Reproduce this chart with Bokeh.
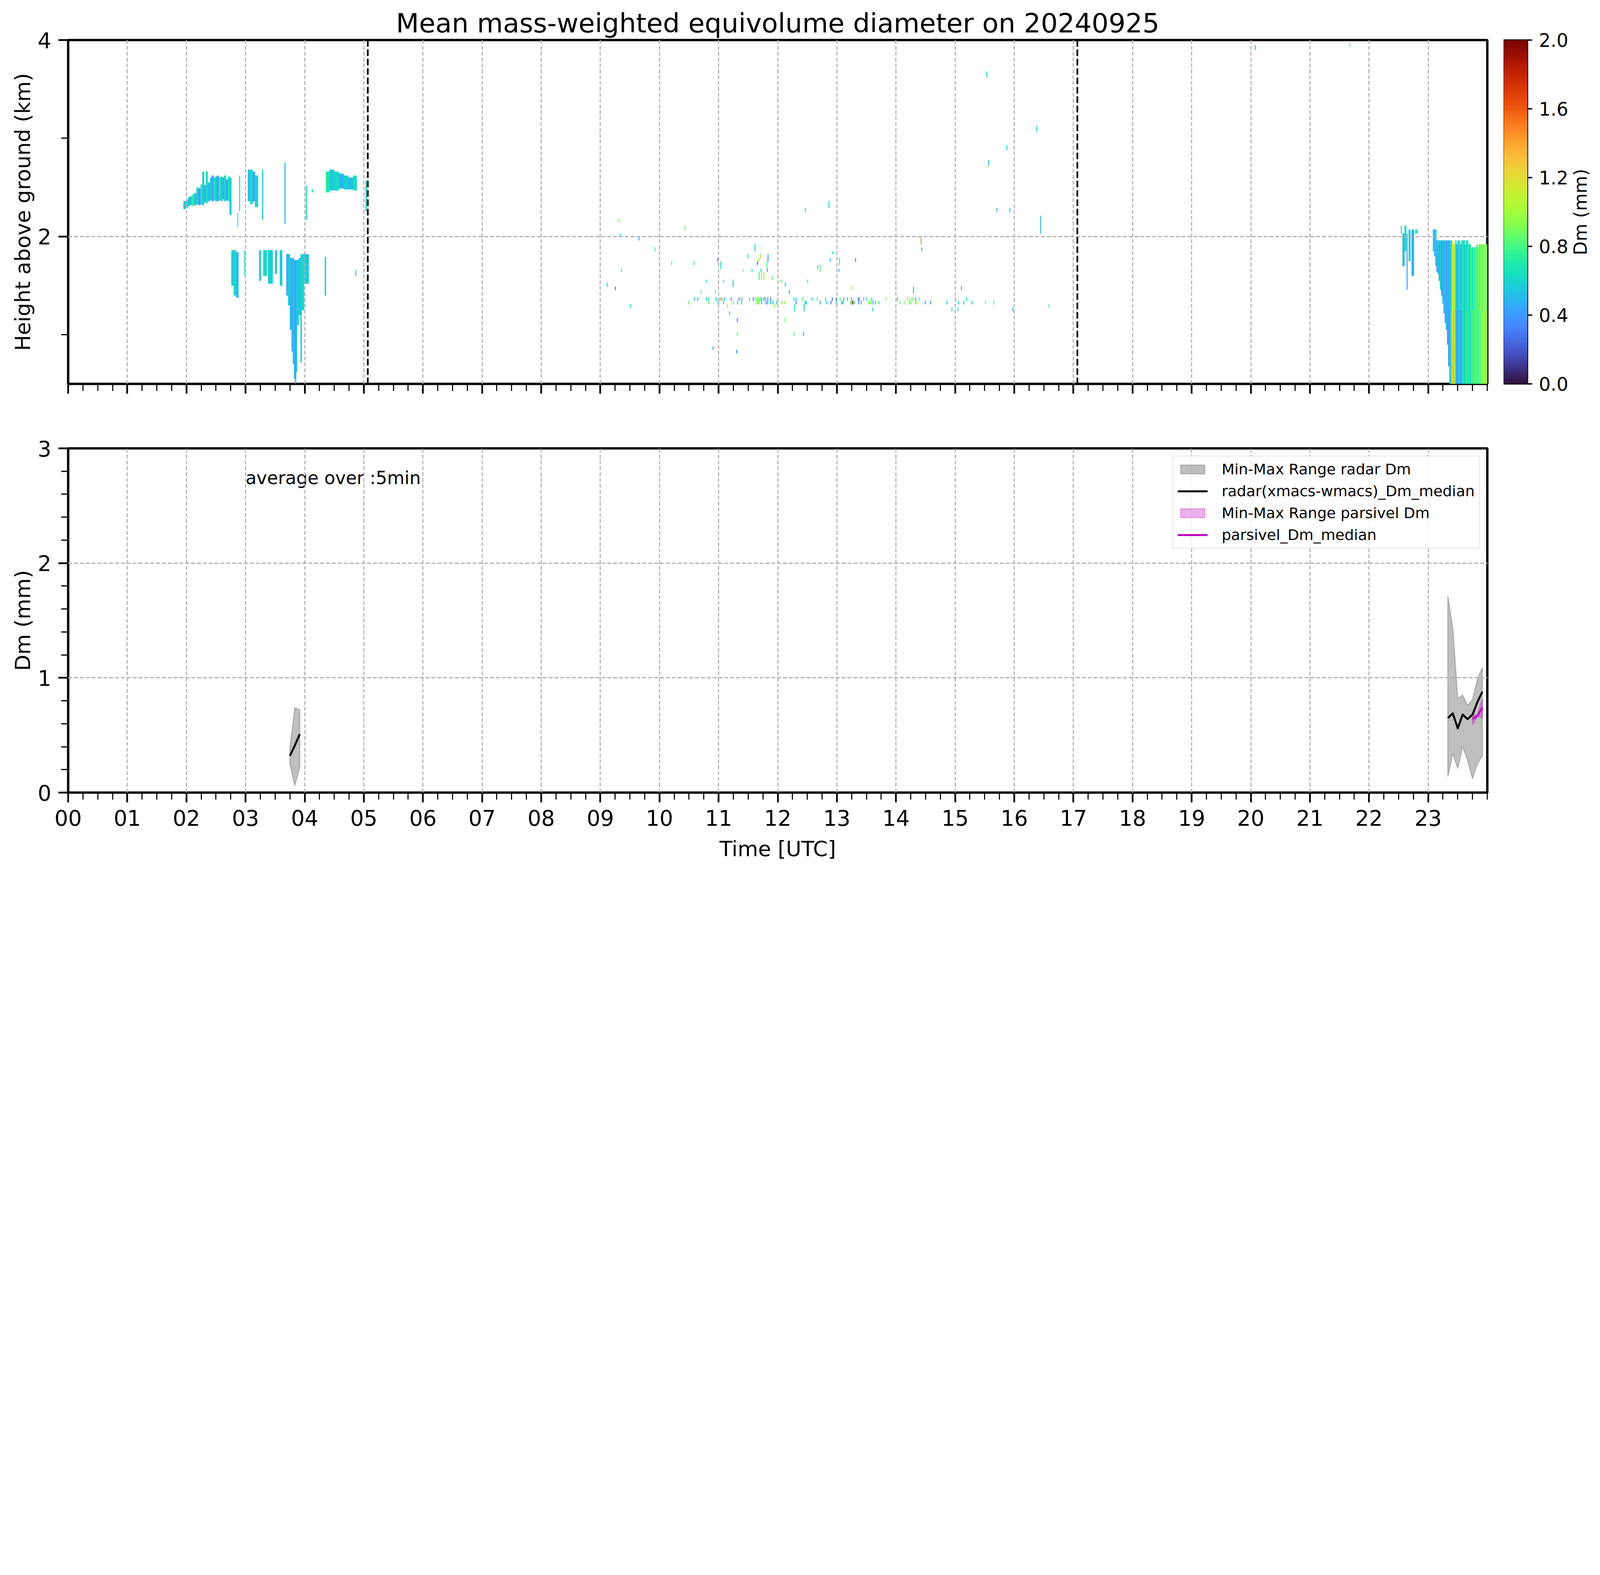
import math
import numpy as np
from bokeh.plotting import figure
from bokeh.models import (Range1d, FixedTicker, LinearColorMapper, ColumnDataSource,
                          Span, Legend, LegendItem, PrintfTickFormatter)
from bokeh.transform import transform
from bokeh.palettes import Turbo256
from bokeh.layouts import column, row
from bokeh.embed import file_html
from bokeh.resources import INLINE
from bokeh.core.properties import value

FONT = "DejaVu Sans"

# ---------------- data ----------------
title_text = "Mean mass-weighted equivolume diameter on 20240925"
hours = list(range(24))
hour_labels = ["%02d" % h for h in hours]
height_major = [2, 4]
height_minor = [1, 3]
dm_major = [0, 1, 2, 3]
cbar_ticks = [0.0, 0.4, 0.8, 1.2, 1.6, 2.0]
cbar_label = "Dm (mm)"
switch_times = [5.067, 17.067]

# radar Dm cells (t0, t1, h0, h1, Dm)
cluster_a = [
    (1.95, 1.99, 2.28, 2.36, 0.55), (1.99, 2.03, 2.29, 2.37, 0.70),
    (2.03, 2.06, 2.31, 2.40, 0.45), (2.06, 2.10, 2.32, 2.41, 0.60),
    (2.10, 2.13, 2.31, 2.43, 0.75), (2.13, 2.17, 2.32, 2.44, 0.50),
    (2.17, 2.20, 2.33, 2.50, 0.62), (2.20, 2.24, 2.32, 2.49, 0.42),
    (2.24, 2.27, 2.33, 2.53, 0.70), (2.27, 2.30, 2.32, 2.66, 0.55),
    (2.30, 2.33, 2.35, 2.52, 0.45), (2.33, 2.36, 2.34, 2.66, 0.65),
    (2.36, 2.40, 2.36, 2.55, 0.50), (2.40, 2.43, 2.37, 2.60, 0.58),
    (2.43, 2.46, 2.36, 2.62, 0.40), (2.46, 2.49, 2.37, 2.60, 0.68),
    (2.49, 2.52, 2.36, 2.61, 0.52), (2.52, 2.55, 2.36, 2.62, 0.45),
    (2.55, 2.58, 2.37, 2.60, 0.72), (2.58, 2.61, 2.36, 2.61, 0.56),
    (2.61, 2.64, 2.38, 2.60, 0.48), (2.64, 2.67, 2.36, 2.62, 0.62),
    (2.67, 2.70, 2.37, 2.58, 0.42), (2.70, 2.73, 2.36, 2.61, 0.66),
    (2.73, 2.76, 2.22, 2.60, 0.55), (2.895, 2.905, 2.26, 2.62, 0.50),
    (2.865, 2.872, 2.10, 2.24, 0.45),
]
cluster_b = [
    (3.04, 3.08, 2.36, 2.68, 0.50), (3.08, 3.12, 2.33, 2.68, 0.62),
    (3.12, 3.16, 2.36, 2.66, 0.42), (3.16, 3.21, 2.30, 2.62, 0.58),
    (3.28, 3.295, 2.17, 2.68, 0.55), (3.66, 3.675, 2.13, 2.75, 0.50),
    (4.02, 4.035, 2.17, 2.52, 0.65), (4.12, 4.14, 2.45, 2.48, 0.70),
    (4.36, 4.42, 2.45, 2.66, 0.70), (4.42, 4.50, 2.47, 2.68, 0.55),
    (4.50, 4.58, 2.47, 2.66, 0.62), (4.58, 4.66, 2.49, 2.64, 0.48),
    (4.66, 4.74, 2.48, 2.62, 0.58), (4.74, 4.82, 2.48, 2.60, 0.52),
    (4.82, 4.88, 2.47, 2.62, 0.65), (5.03, 5.05, 2.26, 2.57, 0.60),
]
cluster_low = [
    (2.76, 2.80, 1.50, 1.86, 0.55), (2.80, 2.84, 1.40, 1.86, 0.62),
    (2.84, 2.88, 1.38, 1.84, 0.50), (2.98, 2.99, 1.60, 1.86, 0.65),
    (3.23, 3.26, 1.55, 1.86, 0.55), (3.30, 3.36, 1.60, 1.86, 0.62),
    (3.38, 3.46, 1.52, 1.86, 0.58), (3.50, 3.53, 1.62, 1.86, 0.50),
    (3.58, 3.62, 1.50, 1.86, 0.55),
    (3.69, 3.72, 1.40, 1.82, 0.45), (3.72, 3.75, 1.30, 1.82, 0.55),
    (3.75, 3.78, 1.05, 1.78, 0.50), (3.78, 3.80, 0.83, 1.78, 0.42),
    (3.80, 3.82, 0.70, 1.78, 0.55), (3.82, 3.84, 0.55, 1.76, 0.48),
    (3.84, 3.855, 0.50, 1.76, 0.40), (3.855, 3.87, 0.62, 1.76, 0.52),
    (3.87, 3.90, 1.10, 1.76, 0.58), (3.90, 3.93, 1.20, 1.78, 0.50),
    (3.93, 3.95, 0.72, 1.82, 0.55), (3.95, 3.99, 1.25, 1.82, 0.62),
    (3.99, 4.07, 1.52, 1.82, 0.55), (4.34, 4.36, 1.40, 1.79, 0.60),
    (4.86, 4.87, 1.60, 1.66, 0.45),
]
cluster_g = [
    (22.54, 22.55, 2.03, 2.11, 0.45), (22.567, 22.60, 1.70, 2.03, 0.50),
    (22.60, 22.63, 1.85, 2.11, 0.65), (22.637, 22.65, 1.46, 2.03, 0.40),
    (22.67, 22.70, 1.75, 2.07, 0.55), (22.72, 22.76, 1.60, 2.07, 0.48),
    (22.78, 22.82, 2.03, 2.07, 0.70),
]
# isolated short echoes (t, h0, h1, Dm)
scatter_echo = [
    (12.86, 2.29, 2.36, 0.55), (12.46, 2.25, 2.29, 0.70), (15.70, 2.25, 2.29, 0.45),
    (15.92, 2.25, 2.29, 0.60), (16.44, 2.03, 2.21, 0.50), (9.31, 2.14, 2.18, 0.90),
    (10.43, 2.07, 2.11, 0.85), (9.33, 2.00, 2.03, 0.70), (9.65, 1.96, 1.99, 0.45),
    (9.92, 1.85, 1.89, 0.75), (11.61, 1.85, 1.92, 0.62), (14.42, 1.92, 1.99, 1.45),
    (14.43, 1.85, 1.89, 0.55), (12.92, 1.82, 1.85, 0.70), (11.49, 1.78, 1.82, 0.70),
    (11.70, 1.78, 1.82, 0.95), (11.83, 1.745, 1.82, 0.40), (10.98, 1.745, 1.78, 0.30),
    (11.67, 1.745, 1.78, 1.00), (12.88, 1.745, 1.78, 0.60), (13.04, 1.71, 1.78, 0.75),
    (13.31, 1.745, 1.78, 0.30), (10.20, 1.71, 1.745, 0.80), (10.58, 1.71, 1.745, 0.75),
    (11.03, 1.67, 1.745, 0.65), (11.65, 1.71, 1.745, 0.20), (11.81, 1.67, 1.745, 0.80),
    (12.67, 1.67, 1.71, 0.70), (12.71, 1.64, 1.71, 0.85), (9.35, 1.64, 1.67, 0.75),
    (11.41, 1.64, 1.67, 0.95), (11.56, 1.64, 1.67, 0.70), (11.71, 1.64, 1.67, 0.65),
    (11.82, 1.64, 1.67, 0.40), (11.68, 1.56, 1.64, 0.80), (11.72, 1.56, 1.64, 0.90),
    (11.76, 1.56, 1.64, 1.00), (11.90, 1.56, 1.60, 0.85), (13.03, 1.64, 1.67, 0.50),
    (10.79, 1.53, 1.56, 0.75), (11.08, 1.53, 1.56, 0.75), (11.24, 1.49, 1.56, 0.60),
    (12.05, 1.53, 1.56, 0.80), (12.50, 1.53, 1.56, 0.75), (12.12, 1.49, 1.53, 0.60),
    (9.11, 1.49, 1.53, 0.65), (9.25, 1.455, 1.49, 0.30), (13.25, 1.455, 1.49, 0.95),
    (14.29, 1.42, 1.49, 0.55), (15.10, 1.455, 1.49, 0.45), (10.70, 1.42, 1.455, 0.80),
    (10.94, 1.42, 1.455, 0.80), (12.19, 1.42, 1.455, 0.45), (9.50, 1.277, 1.31, 0.65),
    (11.14, 1.277, 1.31, 0.90), (11.94, 1.277, 1.31, 0.95), (12.28, 1.24, 1.31, 0.65),
    (12.44, 1.24, 1.31, 0.65), (13.60, 1.24, 1.277, 0.55), (14.94, 1.24, 1.277, 0.70),
    (15.04, 1.24, 1.277, 0.75), (15.97, 1.24, 1.277, 0.45), (16.58, 1.277, 1.31, 0.80),
    (11.18, 1.20, 1.24, 0.70), (11.31, 1.13, 1.17, 0.40), (12.12, 1.13, 1.17, 0.85),
    (12.27, 0.99, 1.025, 0.80), (11.31, 0.99, 1.025, 0.85), (12.43, 0.99, 1.025, 0.40),
    (10.90, 0.847, 0.88, 0.50), (11.30, 0.81, 0.845, 0.30),
    (15.53, 3.62, 3.68, 0.60), (15.56, 2.72, 2.78, 0.55), (16.37, 3.07, 3.12, 0.70),
    (15.87, 2.88, 2.93, 0.60), (20.07, 3.90, 3.95, 0.55), (21.67, 3.93, 3.97, 0.80),
]
# thin echo layer near 1.35 km
band_upper_t = [10.585, 10.641, 10.789, 10.825, 10.952, 11.019, 11.049, 11.095, 11.207,
                11.340, 11.386, 11.519, 11.580, 11.621, 11.641, 11.662, 11.682, 11.702,
                11.723, 11.759, 11.784, 11.825, 11.876, 12.269, 12.305, 12.412, 12.575,
                12.662, 12.804, 12.917, 12.983, 13.049, 13.111, 13.172, 13.243, 13.355,
                13.376, 13.447, 13.493, 13.585, 13.825, 14.019, 14.192, 14.223, 14.259,
                14.284, 14.325, 14.386, 14.998, 15.187]
band_upper_dm = [0.55, 0.60, 0.55, 0.80, 0.60, 1.40, 0.55, 0.50, 0.40,
                 0.35, 0.60, 0.55, 0.30, 0.85, 0.90, 0.95, 0.85, 0.80,
                 0.55, 0.35, 0.60, 0.40, 0.35, 0.55, 0.60, 0.85, 0.70,
                 0.80, 0.60, 0.30, 0.30, 0.85, 0.40, 0.55, 0.35, 0.30,
                 0.45, 0.60, 0.75, 0.55, 0.90, 0.50, 0.90, 0.95, 0.85,
                 0.90, 0.40, 0.75, 0.55, 0.60]
band_lower_t = [10.493, 10.825, 10.983, 11.075, 11.243, 11.315, 11.381, 11.641, 11.662,
                11.682, 11.718, 11.799, 11.825, 11.876, 11.912, 11.978, 12.065, 12.111,
                12.305, 12.458, 12.478, 12.713, 12.825, 12.896, 12.983, 13.075, 13.095,
                13.223, 13.243, 13.264, 13.289, 13.366, 13.407, 13.529, 13.549, 13.570,
                13.605, 13.646, 13.702, 14.060, 14.131, 14.223, 14.243, 14.325, 14.350,
                14.488, 14.580, 14.856, 15.049, 15.141, 15.279, 15.509, 15.646]
band_lower_dm = [0.80, 0.85, 0.70, 0.60, 0.80, 0.55, 0.65, 0.90, 0.85,
                 0.95, 0.55, 0.30, 0.55, 0.50, 0.55, 0.60, 0.90, 0.95,
                 0.30, 0.55, 0.60, 0.45, 0.60, 0.30, 0.55, 0.60, 0.55,
                 0.90, 0.60, 1.95, 0.85, 0.30, 0.40, 0.95, 0.90, 0.85,
                 0.40, 0.55, 0.80, 0.85, 0.90, 0.95, 0.90, 0.85, 0.95,
                 0.40, 0.35, 0.60, 0.60, 0.55, 0.60, 0.85, 0.80]
# rain shaft after 23 UTC: column edges, bottom, top, Dm above / below 1.25 km
rain_t0 = [23.08, 23.10, 23.12, 23.14, 23.16, 23.18, 23.20, 23.22, 23.24, 23.26,
           23.28, 23.30, 23.32, 23.34, 23.36, 23.38, 23.40, 23.42, 23.44, 23.46,
           23.48, 23.50, 23.52, 23.54, 23.56, 23.58, 23.60, 23.62, 23.64, 23.66,
           23.68, 23.70, 23.72, 23.74, 23.76, 23.78, 23.80, 23.82, 23.84, 23.86,
           23.88, 23.90, 23.92, 23.94, 23.96, 23.98]
rain_t1 = [23.10, 23.12, 23.14, 23.16, 23.18, 23.20, 23.22, 23.24, 23.26, 23.28,
           23.30, 23.32, 23.34, 23.36, 23.38, 23.40, 23.42, 23.44, 23.46, 23.48,
           23.50, 23.52, 23.54, 23.56, 23.58, 23.60, 23.62, 23.64, 23.66, 23.68,
           23.70, 23.72, 23.74, 23.76, 23.78, 23.80, 23.82, 23.84, 23.86, 23.88,
           23.90, 23.92, 23.94, 23.96, 23.98, 24.00]
rain_bottom = [1.85, 1.80, 1.70, 1.64, 1.62, 1.55, 1.46, 1.40, 1.32, 1.22,
               1.12, 1.05, 0.90, 0.68, 0.50, 0.50, 0.50, 0.50, 0.50, 0.50,
               0.50, 0.50, 0.50, 0.50, 0.50, 0.50, 0.50, 0.50, 0.50, 0.50,
               0.50, 0.50, 0.50, 0.50, 0.50, 0.50, 0.50, 0.50, 0.50, 0.50,
               0.50, 0.50, 0.50, 0.50, 0.50, 0.50]
rain_top = [2.07, 2.07, 2.07, 1.96, 1.96, 1.96, 1.96, 1.96, 1.96, 1.96,
            1.96, 1.96, 1.96, 1.96, 1.96, 1.96, 1.96, 1.92, 1.92, 1.96,
            1.92, 1.96, 1.96, 1.92, 1.96, 1.96, 1.96, 1.92, 1.96, 1.96,
            1.92, 1.92, 1.89, 1.89, 1.89, 1.89, 1.89, 1.92, 1.89, 1.92,
            1.92, 1.92, 1.92, 1.92, 1.92, 1.92]
rain_dm_upper = [0.60, 0.45, 0.65, 0.40, 0.55, 0.42, 0.58, 0.38, 0.50, 0.44,
                 0.56, 0.40, 0.52, 0.45, 0.55, 0.60, 1.10, 1.30, 1.00, 0.62,
                 0.45, 0.55, 0.68, 0.50, 0.62, 0.72, 0.55, 0.68, 0.60, 0.75,
                 0.62, 0.70, 0.78, 0.66, 0.80, 0.72, 0.85, 0.75, 0.88, 0.80,
                 0.92, 0.82, 0.95, 0.90, 0.98, 0.92]
rain_dm_lower = [0.60, 0.45, 0.65, 0.40, 0.55, 0.42, 0.58, 0.38, 0.50, 0.40,
                 0.45, 0.50, 0.42, 0.38, 0.48, 0.70, 1.15, 1.40, 1.05, 0.55,
                 0.40, 0.45, 0.60, 0.42, 0.55, 0.70, 0.65, 0.62, 0.75, 0.68,
                 0.72, 0.60, 0.74, 0.80, 0.72, 0.85, 0.78, 0.82, 0.76, 0.90,
                 0.85, 0.95, 0.88, 1.00, 0.92, 0.98]

# 5-min statistics (bottom panel)
radar_t_a = [3.750, 3.833, 3.917]
radar_med_a = [0.32, 0.41, 0.51]
radar_min_a = [0.25, 0.06, 0.22]
radar_max_a = [0.39, 0.74, 0.72]
radar_t_b = [23.333, 23.417, 23.500, 23.583, 23.667, 23.750, 23.833, 23.917]
radar_med_b = [0.65, 0.69, 0.56, 0.68, 0.64, 0.68, 0.79, 0.88]
radar_min_b = [0.14, 0.34, 0.21, 0.40, 0.28, 0.12, 0.25, 0.32]
radar_max_b = [1.71, 1.43, 0.82, 0.85, 0.76, 0.81, 0.99, 1.09]
pars_t = [23.750, 23.833, 23.917]
pars_med = [0.64, 0.67, 0.74]
pars_min = [0.59, 0.665, 0.65]
pars_max = [0.68, 0.67, 0.82]

# ---------------- build cell table ----------------
T0, T1, H0, H1, DM = [], [], [], [], []
def add(t0, t1, h0, h1, v):
    T0.append(t0); T1.append(t1); H0.append(h0); H1.append(h1); DM.append(v)

for c in cluster_a + cluster_b + cluster_low + cluster_g:
    add(*c)
for (t, h0, h1, v) in scatter_echo:
    add(t, t + 0.012, h0, h1, v)
for t, v in zip(band_upper_t, band_upper_dm):
    add(t, t + 0.012, 1.345, 1.38, v)
for t, v in zip(band_lower_t, band_lower_dm):
    add(t, t + 0.012, 1.31, 1.345, v)
for t0, t1, b, tp, vu, vl in zip(rain_t0, rain_t1, rain_bottom, rain_top, rain_dm_upper, rain_dm_lower):
    split = 1.25
    if b < split:
        add(t0, t1, b, split, vl)
        add(t0, t1, split, tp, vu)
    else:
        add(t0, t1, b, tp, vu)

cells = ColumnDataSource(dict(t0=T0, t1=T1, h0=H0, h1=H1, dm=DM))
mapper = LinearColorMapper(palette=Turbo256, low=0.0, high=2.0)

# ---------------- geometry (CSS px; page is photographed at ~1.817 device px / CSS px) ----
S = 4096.0 / 7442.0
def px(v):
    return v * S
def ipx(v):
    return int(round(v * S))
def fs(v):
    return "%.1fpx" % (v * S)

FRAME_W = 3633
FRAME_H1 = 880
FRAME_H2 = 881
LEFT = 174
TOP = 102
BOT1 = 33
TOP2 = 132
GAP_R = 42
CBAR_W = 61
CBAR_RIGHT = 105
LABEL_W = 76
LABEL_X = 0.38
GRID_COLOR = "#b0b0b0"
minor_x = [i * 0.25 for i in range(97)]

def style_axes(p):
    p.outline_line_color = "black"
    p.outline_line_width = px(11)
    for ax in p.axis:
        ax.axis_line_color = None
        ax.major_tick_line_color = "black"
        ax.minor_tick_line_color = "black"
        ax.major_tick_line_width = px(8)
        ax.minor_tick_line_width = px(5)
        ax.major_tick_out = ipx(46)
        ax.major_tick_in = 0
        ax.minor_tick_out = ipx(32)
        ax.minor_tick_in = 0
        ax.major_label_text_font = FONT
        ax.major_label_text_font_size = fs(100)
        ax.major_label_text_color = "black"
        ax.axis_label_text_font = FONT
        ax.axis_label_text_font_size = fs(98)
        ax.axis_label_text_font_style = "normal"
        ax.axis_label_text_color = "black"
    for g in p.grid:
        g.grid_line_color = GRID_COLOR
        g.grid_line_width = px(5)
        g.grid_line_dash = "10 5"
        g.level = "annotation"

# ---------------- top panel ----------------
p1 = figure(frame_width=FRAME_W, frame_height=FRAME_H1, x_range=Range1d(0, 24),
            y_range=Range1d(0.5, 4), output_backend="svg", toolbar_location=None,
            min_border_left=LEFT, min_border_top=TOP, min_border_right=GAP_R,
            min_border_bottom=BOT1, title=title_text)
p1.title.text_font = FONT
p1.title.text_font_size = fs(124)
p1.title.text_font_style = "normal"
p1.title.text_color = "black"
p1.title.align = "center"
p1.title.standoff = ipx(12)
p1.quad(left="t0", right="t1", bottom="h0", top="h1", source=cells,
        fill_color=transform("dm", mapper), line_color=transform("dm", mapper),
        line_width=0.6)
for st in switch_times:
    p1.add_layout(Span(location=st, dimension="height", line_color="black",
                       line_width=px(8), line_dash="17 7"))
p1.xaxis.ticker = FixedTicker(ticks=hours, minor_ticks=minor_x)
p1.yaxis.ticker = FixedTicker(ticks=height_major, minor_ticks=height_minor)
p1.yaxis.axis_label = "Height above ground (km)"
style_axes(p1)
p1.xaxis.major_label_overrides = {h: "" for h in hours}
p1.xaxis.major_label_text_font_size = "2px"
p1.xaxis.major_label_standoff = 0
p1.yaxis.major_label_standoff = ipx(33)
p1.yaxis.axis_label_standoff = ipx(8)

# ---------------- colour bar ----------------
pc = figure(frame_width=CBAR_W, frame_height=FRAME_H1, x_range=Range1d(0, 1),
            y_range=Range1d(0, 2), output_backend="svg", toolbar_location=None,
            x_axis_location=None, y_axis_location="right",
            min_border_left=0, min_border_top=TOP, min_border_bottom=BOT1,
            min_border_right=CBAR_RIGHT)
grad = np.linspace(0.0, 2.0, 256).reshape(256, 1)
pc.image(image=[grad], x=0, y=0, dw=1, dh=2, color_mapper=mapper)
pc.grid.visible = False
pc.outline_line_color = "black"
pc.outline_line_width = px(6)
ya = pc.yaxis[0]
ya.ticker = FixedTicker(ticks=cbar_ticks, minor_ticks=[])
ya.formatter = PrintfTickFormatter(format="%.1f")
ya.axis_line_color = None
ya.major_tick_line_color = "black"
ya.major_tick_line_width = px(6)
ya.major_tick_out = ipx(21)
ya.major_tick_in = 0
ya.major_label_standoff = ipx(31)
ya.major_label_text_font = FONT
ya.major_label_text_font_size = fs(86)
ya.major_label_text_color = "black"

# colour-bar label, reading bottom to top, in its own slim panel
pl = figure(frame_width=LABEL_W, frame_height=FRAME_H1, x_range=Range1d(0, 1),
            y_range=Range1d(0, 1), output_backend="svg", toolbar_location=None,
            x_axis_location=None, y_axis_location=None,
            min_border_left=0, min_border_right=0, min_border_top=TOP,
            min_border_bottom=BOT1)
pl.grid.visible = False
pl.outline_line_color = None
pl.text(x=[LABEL_X], y=[0.5], text=[cbar_label], angle=math.pi / 2,
        text_font=value(FONT), text_font_size=fs(84), text_align="center",
        text_baseline="middle", text_color="black")

# ---------------- bottom panel ----------------
p2 = figure(frame_width=FRAME_W, frame_height=FRAME_H2, x_range=Range1d(0, 24),
            y_range=Range1d(0, 3), output_backend="svg", toolbar_location=None,
            min_border_left=LEFT, min_border_top=TOP2, min_border_right=GAP_R,
            min_border_bottom=5)

def poly(t, lo, hi):
    return list(t) + list(t[::-1]), list(hi) + list(lo[::-1])

ax_, ay_ = poly(radar_t_a, radar_min_a, radar_max_a)
bx_, by_ = poly(radar_t_b, radar_min_b, radar_max_b)
r_rng = p2.patches(xs=[ax_, bx_], ys=[ay_, by_], fill_color="#808080", fill_alpha=0.5,
                   line_color="#808080", line_alpha=0.5, line_width=px(5))
r_med = p2.multi_line(xs=[radar_t_a, radar_t_b], ys=[radar_med_a, radar_med_b],
                      line_color="black", line_width=px(9), line_join="round")
px_, py_ = poly(pars_t, pars_min, pars_max)
p_rng = p2.patch(px_, py_, fill_color="#bf00bf", fill_alpha=0.3, line_color="#bf00bf",
                 line_alpha=0.3, line_width=px(5))
p_med = p2.line(pars_t, pars_med, line_color="#bf00bf", line_width=px(9), line_join="round")
r_med.level = "overlay"
p_med.level = "overlay"
p2.text(x=[3.0], y=[2.74], text=["average over :5min"], text_font=value(FONT),
        text_font_size=fs(83), text_baseline="alphabetic", text_align="left",
        text_color="black")

p2.xaxis.ticker = FixedTicker(ticks=hours, minor_ticks=minor_x)
p2.xaxis.major_label_overrides = {h: lab for h, lab in zip(hours, hour_labels)}
p2.xaxis.axis_label = "Time [UTC]"
p2.yaxis.ticker = FixedTicker(ticks=dm_major,
                              minor_ticks=[0.2, 0.4, 0.6, 0.8, 1.2, 1.4, 1.6, 1.8,
                                           2.2, 2.4, 2.6, 2.8])
p2.yaxis.axis_label = "Dm (mm)"
style_axes(p2)
p2.xaxis.major_label_standoff = ipx(35)
p2.xaxis.axis_label_standoff = ipx(46)
p2.yaxis.major_label_standoff = ipx(33)
p2.yaxis.axis_label_standoff = ipx(8)

legend = Legend(items=[
    LegendItem(label="Min-Max Range radar Dm", renderers=[r_rng]),
    LegendItem(label="radar(xmacs-wmacs)_Dm_median", renderers=[r_med]),
    LegendItem(label="Min-Max Range parsivel Dm", renderers=[p_rng]),
    LegendItem(label="parsivel_Dm_median", renderers=[p_med]),
], location="top_right")
legend.margin = ipx(35)
legend.padding = ipx(20)
legend.spacing = ipx(22)
legend.glyph_width = ipx(139)
legend.glyph_height = ipx(50)
legend.label_height = ipx(80)
legend.label_standoff = ipx(65)
legend.label_text_font = FONT
legend.label_text_font_size = fs(69)
legend.label_text_color = "black"
legend.border_line_color = "#cccccc"
legend.border_line_width = px(5)
legend.background_fill_alpha = 0.8
legend.level = "overlay"
p2.add_layout(legend)

layout = column(row(p1, pc, pl), p2)
open("out.html", "w").write(file_html(layout, INLINE))
